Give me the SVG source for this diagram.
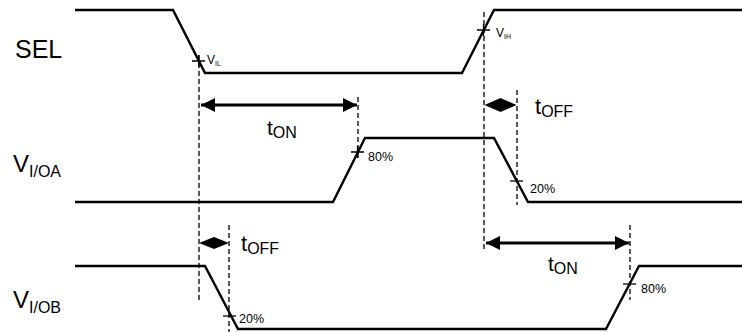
<svg xmlns="http://www.w3.org/2000/svg" width="742" height="332" viewBox="0 0 742 332">
<defs>
<marker id="ah" viewBox="0 0 10 10" refX="10" refY="5" markerWidth="5.3" markerHeight="5" orient="auto-start-reverse" markerUnits="strokeWidth">
<path d="M0,0 L10,5 L0,10 Z" fill="#000"/>
</marker>
<style>
.w{fill:none;stroke:#000;stroke-width:2.4;stroke-linejoin:miter}
.d{fill:none;stroke:#000;stroke-width:1.3;stroke-dasharray:5,3}
.t{fill:none;stroke:#000;stroke-width:1.3}
.a{fill:none;stroke:#000;stroke-width:2.8}
.dm{fill:#000;stroke:none}
text{font-family:"Liberation Sans",Arial,sans-serif;fill:#000}
.sm{font-size:12px}
.pc{font-size:12.5px}
</style>
</defs>
<g id="labels">
<text x="15" y="58" font-size="25">SEL</text>
<text x="13" y="172" font-size="24">V<tspan font-size="16" dy="5">I/OA</tspan></text>
<text x="13" y="308" font-size="24">V<tspan font-size="16" dy="5">I/OB</tspan></text>
</g>
<g id="sel">
<path class="w" d="M75,10 H173 L205,73 H462 L494,10 H742"/>
<path class="t" d="M192,61 H205 M198.7,55 V67"/>
<text class="sm" x="207" y="64">V<tspan font-size="7" dy="2">IL</tspan></text>
<path class="t" d="M477,30 H490 M483.5,24 V36"/>
<text class="sm" x="496" y="37">V<tspan font-size="7" dy="2">IH</tspan></text>
</g>
<g id="vioa">
<path class="w" d="M75,202 H333 L365,138 H494 L528,202 H742"/>
<path class="t" d="M351,152 H364 M357.5,146 V158"/>
<text class="pc" x="368" y="161">80%</text>
<path class="t" d="M510,181 H523"/>
<text class="pc" x="530" y="193">20%</text>
</g>
<g id="viob">
<path class="w" d="M75,266 H205 L238,329 H606 L639,266 H742"/>
<path class="t" d="M223,316 H236"/>
<text class="pc" x="239" y="323">20%</text>
<path class="t" d="M623,284 H636"/>
<text class="pc" x="641" y="293">80%</text>
</g>
<g id="connectors">
<path class="d" d="M199,55 V300"/>
<path class="d" d="M484,12 V250"/>
<path class="d" d="M358,97 V160"/>
<path class="d" d="M517,90 V205"/>
<path class="d" d="M229,225 V332"/>
<path class="d" d="M630,225 V300"/>
<line class="a" x1="201" y1="105" x2="357" y2="105" marker-start="url(#ah)" marker-end="url(#ah)"/>
<polygon class="dm" points="484.5,105 500.5,98 516.5,105 500.5,112"/>
<polygon class="dm" points="199,243 214,237 229,243 214,249"/>
<line class="a" x1="486" y1="243" x2="629" y2="243" marker-start="url(#ah)" marker-end="url(#ah)"/>
</g>
<g id="timelabels">
<text x="267" y="135" font-size="21">t<tspan font-size="16" dy="3">ON</tspan></text>
<text x="535" y="114" font-size="22">t<tspan font-size="16" dy="3">OFF</tspan></text>
<text x="241" y="251" font-size="22">t<tspan font-size="16" dy="3">OFF</tspan></text>
<text x="548" y="271" font-size="21">t<tspan font-size="16" dy="3">ON</tspan></text>
</g>
</svg>
